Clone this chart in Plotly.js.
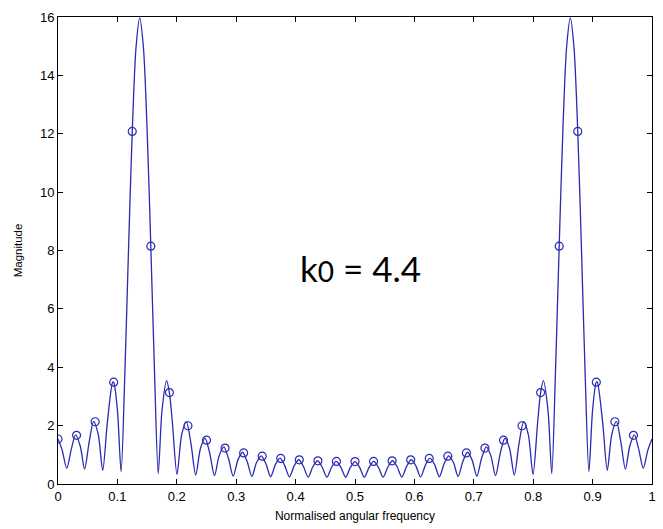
<!DOCTYPE html>
<html>
<head>
<meta charset="utf-8">
<script src="https://cdn.plot.ly/plotly-3.0.1.min.js"></script>
<style>html,body{margin:0;padding:0;background:#fff;}#chart{width:663px;height:529px;}</style>
</head>
<body>
<div id="chart"></div>
<script>
// Continuous magnitude curve (normalised frequency, magnitude)
const curveFreq = [
0, 0.00697, 0.01478, 0.0225, 0.02969, 0.0375, 0.04478, 0.0525, 0.06, 0.06781,
0.07531, 0.08313, 0.09219, 0.09375, 0.1, 0.10625, 0.1125, 0.11875, 0.125, 0.13125,
0.1375, 0.14375, 0.15, 0.15625, 0.1625, 0.16875, 0.175, 0.18281, 0.1875, 0.1925,
0.20031, 0.20813, 0.21606, 0.22375, 0.23184, 0.23969, 0.24759, 0.25531, 0.26338, 0.27125,
0.27906, 0.28688, 0.29491, 0.30281, 0.31069, 0.31844, 0.32647, 0.33406, 0.34219, 0.35,
0.358, 0.36594, 0.37375, 0.38156, 0.38956, 0.3975, 0.40531, 0.41313, 0.42113, 0.42906,
0.43688, 0.44469, 0.45269, 0.46063, 0.46844, 0.47625, 0.48438, 0.49219, 0.5,
0.50781, 0.51563, 0.52375, 0.53156, 0.53938, 0.54731, 0.55531, 0.56313, 0.57094, 0.57888,
0.58688, 0.59469, 0.6025, 0.61044, 0.61844, 0.62625, 0.63406, 0.642, 0.65, 0.65781,
0.66594, 0.67353, 0.68156, 0.68931, 0.69719, 0.70509, 0.71313, 0.72094, 0.72875, 0.73663,
0.74469, 0.75241, 0.76031, 0.76816, 0.77625, 0.78394, 0.79188, 0.79969, 0.8075, 0.8125,
0.81719, 0.825, 0.83125, 0.8375, 0.84375, 0.85, 0.85625, 0.8625, 0.86875, 0.875,
0.88125, 0.8875, 0.89375, 0.9, 0.90625, 0.90781, 0.91687, 0.92469, 0.93219, 0.94,
0.9475, 0.95522, 0.9625, 0.97031, 0.9775, 0.98522, 0.99303, 1.0
];
const curveMag = [
1.542, 1.161, 0.537, 1.203, 1.685, 1.292, 0.509, 1.444, 2.147, 1.695,
0.467, 2.118, 3.493, 3.489, 2.54, 0.424, 3.746, 8.06, 12.08, 14.93,
15.97, 14.97, 12.15, 8.15, 3.84, 0.358, 2.50, 3.54, 3.134, 2.122,
0.326, 1.680, 2.135, 1.401, 0.303, 1.206, 1.574, 1.069, 0.285, 0.963,
1.272, 0.883, 0.270, 0.818, 1.088, 0.767, 0.258, 0.726, 0.967, 0.691,
0.249, 0.662, 0.886, 0.639, 0.242, 0.619, 0.831, 0.604, 0.236, 0.592,
0.796, 0.582, 0.233, 0.575, 0.775, 0.570, 0.232, 0.568, 0.769,
0.568, 0.232, 0.570, 0.775, 0.575, 0.233, 0.582, 0.796, 0.592, 0.236,
0.604, 0.831, 0.619, 0.242, 0.639, 0.886, 0.662, 0.249, 0.691, 0.967,
0.726, 0.258, 0.767, 1.088, 0.818, 0.270, 0.883, 1.272, 0.963, 0.285,
1.069, 1.574, 1.206, 0.303, 1.401, 2.135, 1.680, 0.326, 2.122, 3.134,
3.54, 2.50, 0.358, 3.84, 8.15, 12.15, 14.97, 15.97, 14.93, 12.08,
8.06, 3.746, 0.424, 2.54, 3.489, 3.493, 2.118, 0.467, 1.695, 2.147,
1.444, 0.509, 1.292, 1.685, 1.203, 0.537, 1.161, 1.542
];

// DFT samples (circles)
const binFreq = [
0, 0.03125, 0.0625, 0.09375, 0.125, 0.15625, 0.1875, 0.21875,
0.25, 0.28125, 0.3125, 0.34375, 0.375, 0.40625, 0.4375, 0.46875,
0.5, 0.53125, 0.5625, 0.59375, 0.625, 0.65625, 0.6875, 0.71875,
0.75, 0.78125, 0.8125, 0.84375, 0.875, 0.90625, 0.9375, 0.96875
];
const binMag = [
1.542, 1.667, 2.132, 3.489, 12.08, 8.148, 3.134, 1.996,
1.502, 1.230, 1.063, 0.953, 0.877, 0.827, 0.794, 0.775,
0.769, 0.775, 0.794, 0.827, 0.877, 0.953, 1.063, 1.230,
1.502, 1.996, 3.134, 8.148, 12.08, 3.489, 2.132, 1.667
];

const xTicks = [0, 0.1, 0.2, 0.3, 0.4, 0.5, 0.6, 0.7, 0.8, 0.9, 1];
const xTickLabels = ['0', '0.1', '0.2', '0.3', '0.4', '0.5', '0.6', '0.7', '0.8', '0.9', '1'];
const yTicks = [0, 2, 4, 6, 8, 10, 12, 14, 16];
const yTickLabels = ['0', '2', '4', '6', '8', '10', '12', '14', '16'];

const blue = '#2a2ab4';

const traces = [
  {x: curveFreq, y: curveMag, type: 'scatter', mode: 'lines',
   line: {color: blue, width: 1.3, shape: 'spline', smoothing: 0.8}, hoverinfo: 'skip'},
  {x: binFreq, y: binMag, type: 'scatter', mode: 'markers',
   marker: {symbol: 'circle-open', size: 8, color: blue, line: {color: blue, width: 1.2}}}
];

const axisFont = {family: 'Liberation Sans, Arial, sans-serif', size: 13, color: '#000'};

const layout = {
  width: 663, height: 529,
  margin: {l: 58, r: 11, t: 17, b: 45},
  paper_bgcolor: '#fff', plot_bgcolor: '#fff',
  showlegend: false,
  font: axisFont,
  xaxis: {
    range: [0, 1], tickvals: xTicks, ticktext: xTickLabels,
    ticks: 'inside', ticklen: 5, tickcolor: '#000', mirror: 'ticks',
    showline: true, linecolor: '#000', linewidth: 1, showgrid: false, zeroline: false,
    tickfont: axisFont,
    title: {text: 'Normalised angular frequency', font: {family: 'Liberation Sans, Arial, sans-serif', size: 12, color: '#000'}, standoff: 9}
  },
  yaxis: {
    range: [0, 16], tickvals: yTicks, ticktext: yTickLabels,
    ticks: 'inside', ticklen: 5, tickcolor: '#000', mirror: 'ticks',
    showline: true, linecolor: '#000', linewidth: 1, showgrid: false, zeroline: false,
    tickfont: axisFont,
    title: {text: 'Magnitude', font: {family: 'Liberation Sans, Arial, sans-serif', size: 11.5, color: '#000'}, standoff: 14}
  },
  annotations: [
    {x: 0.51, y: 7.4, xref: 'x', yref: 'y', showarrow: false,
     text: 'k<span style="font-size:28px">0</span> = 4.4',
     font: {family: 'Lato, sans-serif', size: 35, color: '#000'}}
  ]
};

Plotly.newPlot('chart', traces, layout, {displayModeBar: false, staticPlot: true});
</script>
</body>
</html>
